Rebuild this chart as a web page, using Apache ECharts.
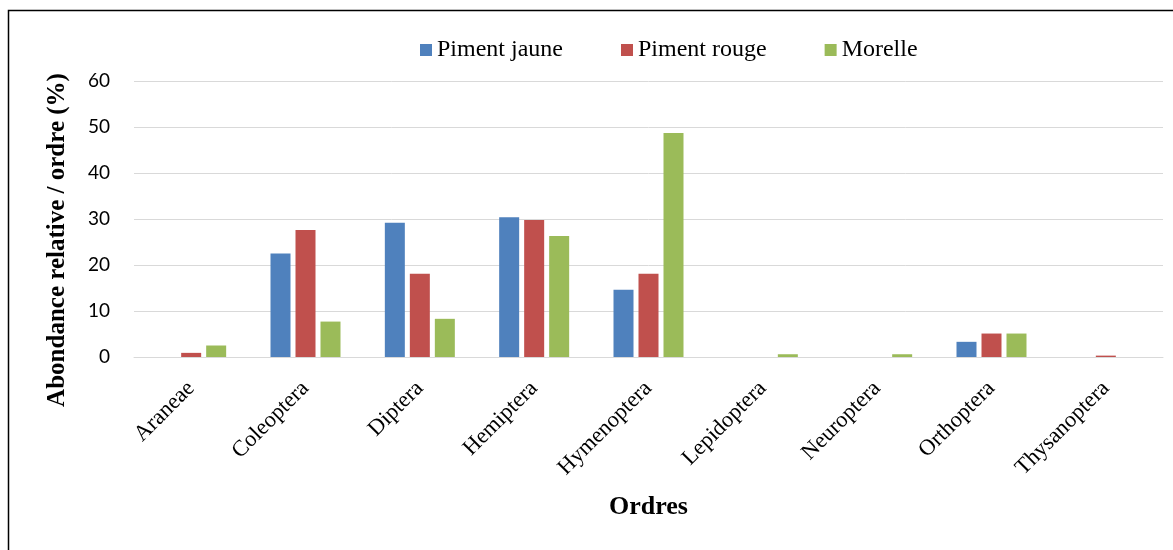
<!DOCTYPE html>
<html>
<head>
<meta charset="utf-8">
<script src="https://cdn.jsdelivr.net/npm/echarts@6/dist/echarts.min.js"></script>
<style>
html,body{margin:0;padding:0;background:#fff;}
#chart{width:1173px;height:550px;}
</style>
</head>
<body>
<div id="chart"></div>
<script>
const categories = ['Araneae','Coleoptera','Diptera','Hemiptera','Hymenoptera','Lepidoptera','Neuroptera','Orthoptera','Thysanoptera'];
const pimentJaune = [0, 22.5, 29.2, 30.4, 14.6, 0, 0, 3.3, 0];
const pimentRouge = [0.9, 27.6, 18.1, 29.8, 18.1, 0, 0, 5.1, 0.3];
const morelle = [2.5, 7.7, 8.3, 26.3, 48.7, 0.6, 0.6, 5.1, 0];
const yTicks = [0, 10, 20, 30, 40, 50, 60];
const yTitle = 'Abondance relative / ordre (%)';

const chart = echarts.init(document.getElementById('chart'));
const serif = '"Liberation Serif","Times New Roman",serif';
const barCommon = { type: 'bar', barWidth: 20, barGap: '25%' };
chart.setOption({
  animation: false,
  backgroundColor: '#fff',
  graphic: [{
    type: 'rect', shape: { x: 8.5, y: 10.5, width: 1200, height: 600 },
    style: { fill: 'none', stroke: '#000', lineWidth: 1.5 }, silent: true
  }, {
    type: 'text', x: 58, y: 240, rotation: Math.PI / 2,
    style: { text: yTitle, fontFamily: serif, fontSize: 25, fontWeight: 'bold', fill: '#000',
      align: 'center', verticalAlign: 'middle' }, silent: true
  }],
  legend: {
    top: 33, left: 415,
    itemWidth: 12, itemHeight: 12, itemGap: 58,
    icon: 'rect',
    textStyle: { fontFamily: serif, fontSize: 24, color: '#000' },
    data: ['Piment jaune', 'Piment rouge', 'Morelle']
  },
  grid: { left: 134, right: 10, top: 81, bottom: 193, containLabel: false },
  xAxis: {
    type: 'category', data: categories,
    name: 'Ordres', nameLocation: 'middle', nameGap: 137,
    nameTextStyle: { fontFamily: serif, fontSize: 26, fontWeight: 'bold', color: '#000' },
    axisLine: { lineStyle: { color: '#d9d9d9', width: 1 } },
    axisTick: { show: false },
    axisLabel: { rotate: 45, interval: 0, margin: 28, fontFamily: serif, fontSize: 22.5, color: '#000' }
  },
  yAxis: {
    type: 'value', min: 0, max: 60, interval: 10,
    axisLine: { show: false }, axisTick: { show: false },
    splitLine: { lineStyle: { color: '#d9d9d9', width: 1 } },
    axisLabel: { margin: 24, fontFamily: 'Lato, "Open Sans", sans-serif', fontSize: 19, color: '#000',
      formatter: v => yTicks.includes(v) ? String(v) : '' }
  },
  series: [
    Object.assign({ name: 'Piment jaune', data: pimentJaune, itemStyle: { color: '#4f81bd' } }, barCommon),
    Object.assign({ name: 'Piment rouge', data: pimentRouge, itemStyle: { color: '#c0504d' } }, barCommon),
    Object.assign({ name: 'Morelle', data: morelle, itemStyle: { color: '#9bbb59' } }, barCommon)
  ]
});
</script>
</body>
</html>
